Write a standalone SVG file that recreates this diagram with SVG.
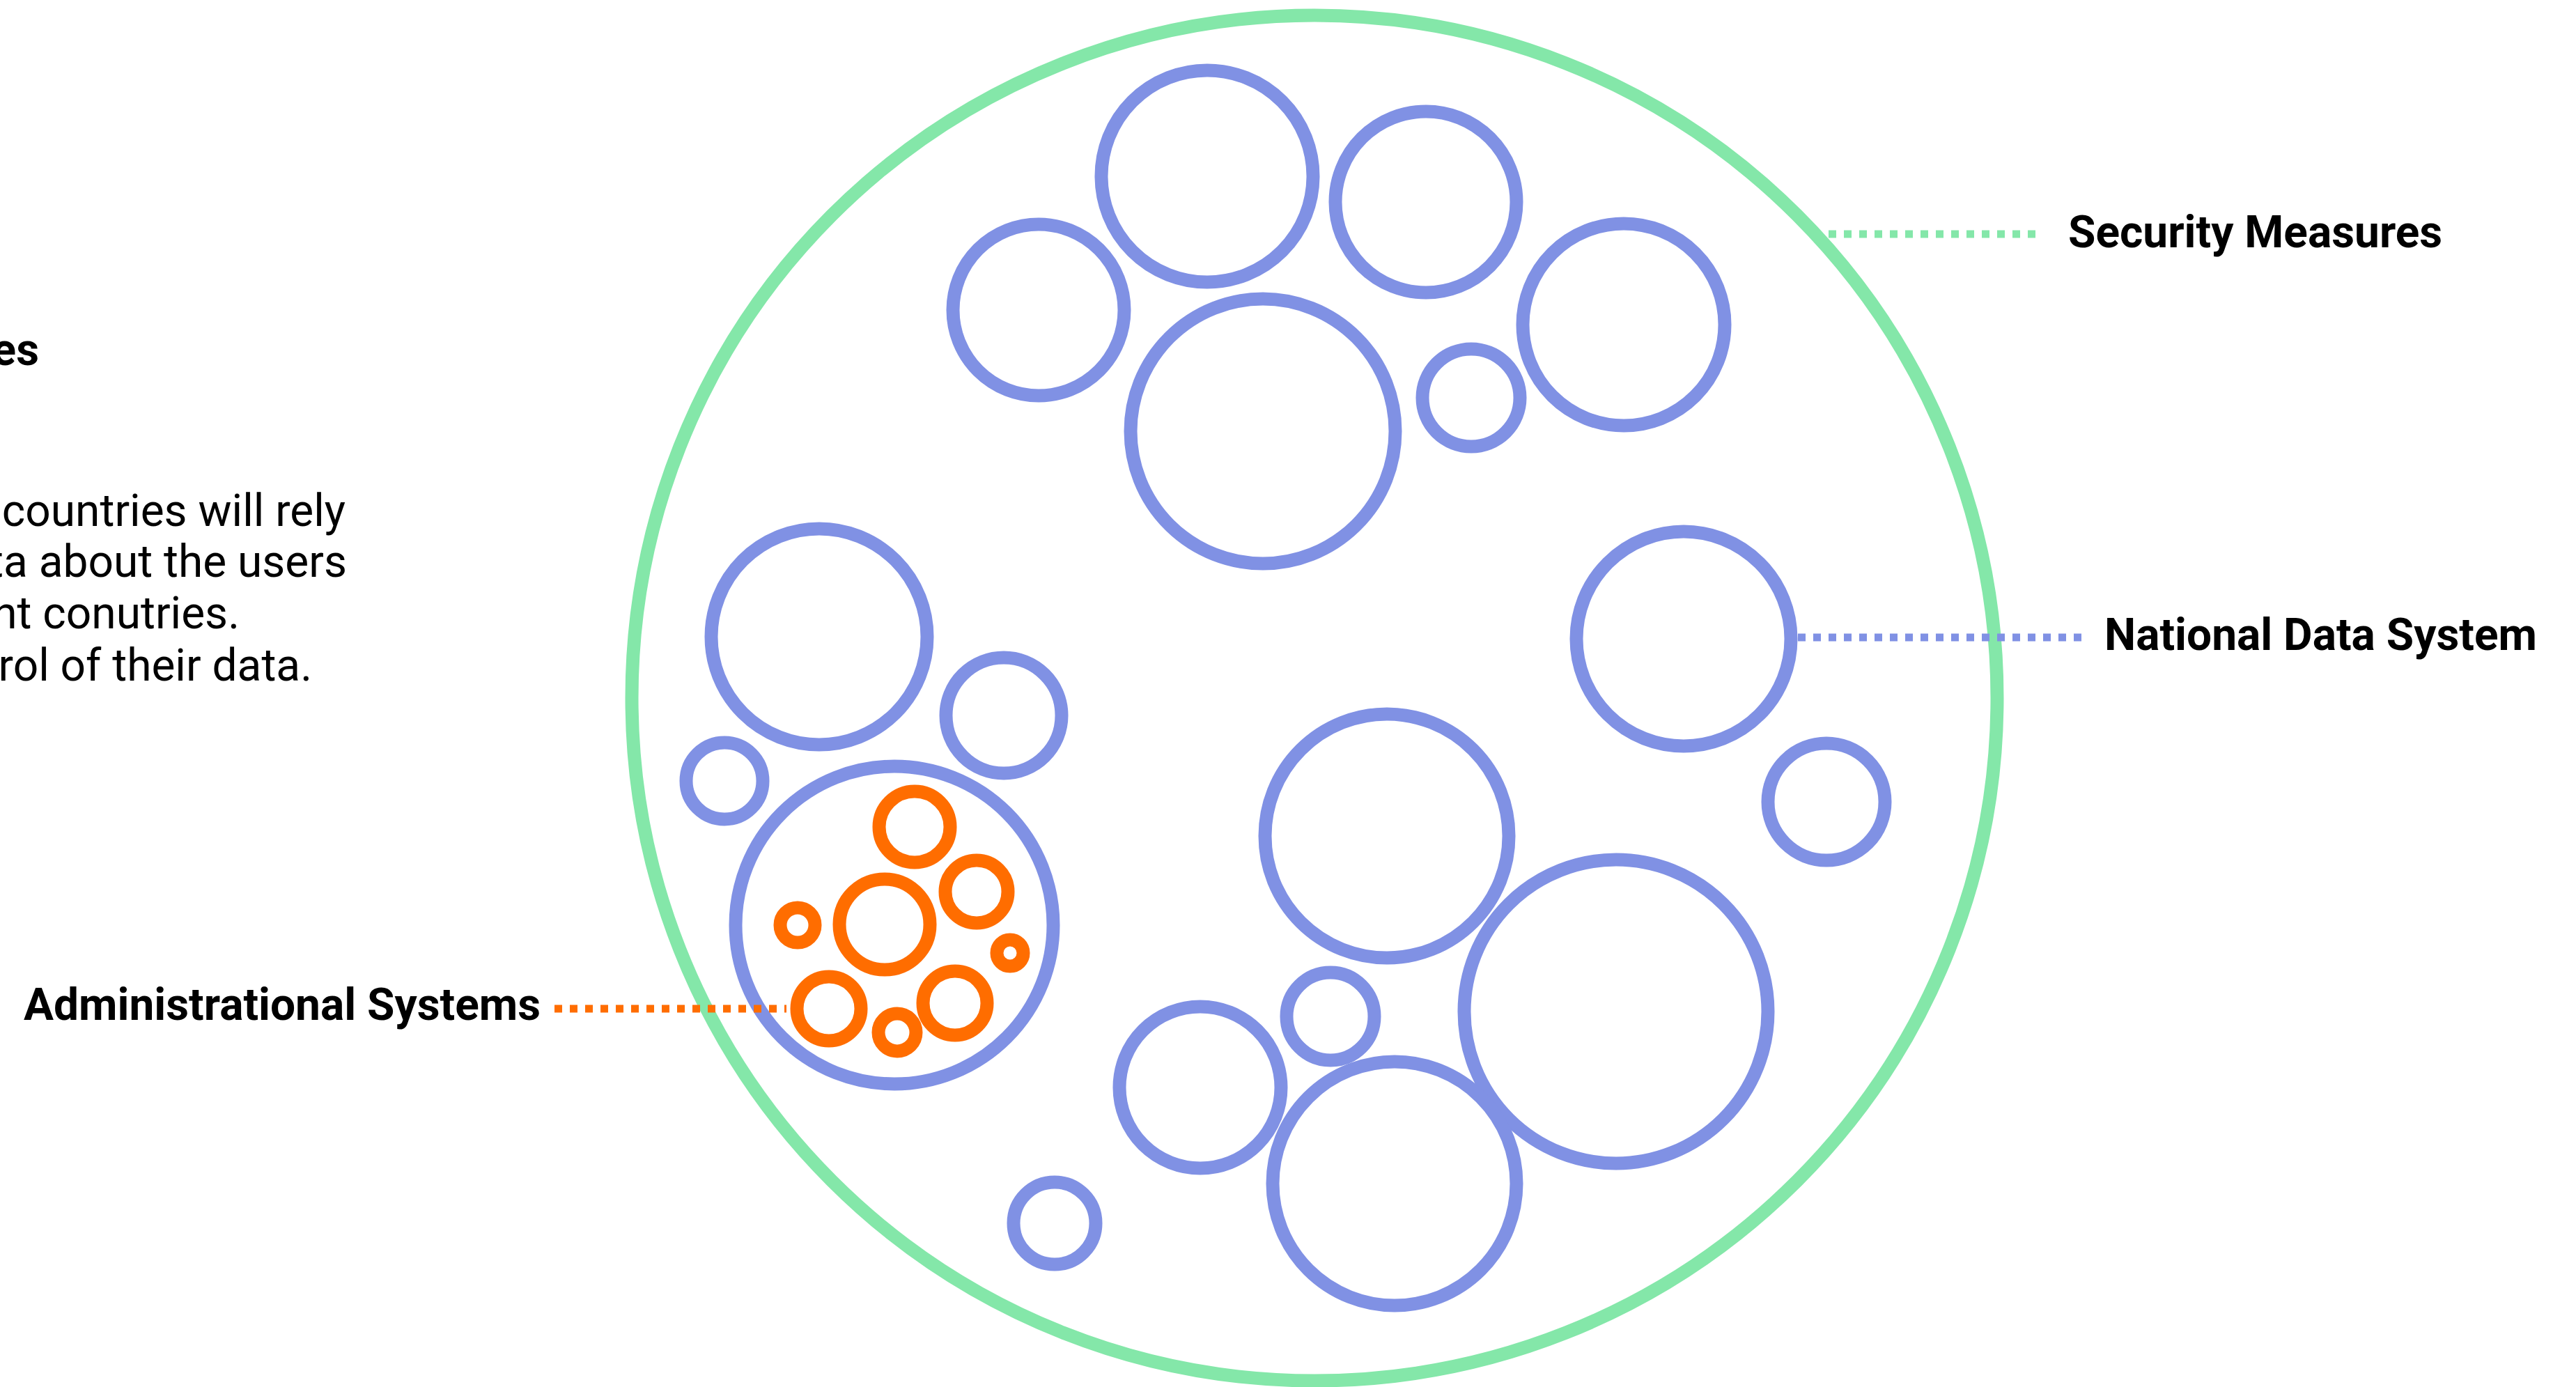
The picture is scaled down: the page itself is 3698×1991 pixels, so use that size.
<svg xmlns="http://www.w3.org/2000/svg" width="3698" height="1991" viewBox="0 0 3698 1991">
<style>
.sec{fill:none;stroke:#84e7a9;stroke-width:19}
.nds{fill:none;stroke:#8091e4;stroke-width:19}
.adm{fill:none;stroke:#ff6d00;stroke-width:19}
.lbl{font-family:Roboto,"Liberation Sans",sans-serif;font-weight:700;font-size:64px;fill:#000}
.body{font-family:Roboto,"Liberation Sans",sans-serif;font-size:64px;fill:#000}
.dot{fill:none;stroke-width:11;stroke-dasharray:11 11}
</style>
<rect width="3698" height="1991" fill="#fff"/>
<g id="intro-text">
<text class="lbl" x="56" y="524" text-anchor="end" font-size="88">es</text>
<text class="body" x="496" y="755" text-anchor="end">countries will rely</text>
<text class="body" x="498" y="828" text-anchor="end">ta about the users</text>
<text class="body" x="344" y="902" text-anchor="end">nt conutries.</text>
<text class="body" x="448" y="977" text-anchor="end">rol of their data.</text>
</g>
<g id="security-measures">
<circle class="sec" cx="1887" cy="1002" r="980"/>
</g>
<g id="national-data-system">
<circle class="nds" cx="1733" cy="253" r="152"/>
<circle class="nds" cx="2047" cy="290" r="130"/>
<circle class="nds" cx="1491" cy="445" r="123"/>
<circle class="nds" cx="1813" cy="619" r="190"/>
<circle class="nds" cx="2331" cy="466" r="145"/>
<circle class="nds" cx="2112" cy="571" r="70"/>
<circle class="nds" cx="1176" cy="914" r="155"/>
<circle class="nds" cx="1441" cy="1027" r="83"/>
<circle class="nds" cx="1040" cy="1121" r="55"/>
<circle class="nds" cx="2417" cy="917" r="154"/>
<circle class="nds" cx="2622" cy="1151" r="84"/>
<circle class="nds" cx="1991" cy="1200" r="175"/>
<circle class="nds" cx="2320" cy="1452" r="218"/>
<circle class="nds" cx="1910" cy="1459" r="63"/>
<circle class="nds" cx="1723" cy="1561" r="116"/>
<circle class="nds" cx="2002" cy="1699" r="175"/>
<circle class="nds" cx="1514" cy="1756" r="59"/>
</g>
<g id="administrational-systems">
<circle class="nds" cx="1284" cy="1328" r="228"/>
<circle class="adm" cx="1313" cy="1187" r="51"/>
<circle class="adm" cx="1402" cy="1280" r="45"/>
<circle class="adm" cx="1270" cy="1327" r="65"/>
<circle class="adm" cx="1145" cy="1328" r="25"/>
<circle class="adm" cx="1450" cy="1368" r="19"/>
<circle class="adm" cx="1190" cy="1448" r="46"/>
<circle class="adm" cx="1371" cy="1440" r="46"/>
<circle class="adm" cx="1288" cy="1482" r="27"/>
</g>
<g id="connectors">
<line class="dot" x1="2625" y1="336" x2="2924" y2="336" stroke="#84e7a9"/>
<line class="dot" x1="2581" y1="915" x2="2992" y2="915" stroke="#8091e4"/>
<line class="dot" x1="796" y1="1448" x2="1129" y2="1448" stroke="#ff6d00"/>
</g>
<g id="labels">
<text class="lbl" x="2969" y="355">Security Measures</text>
<text class="lbl" x="3021" y="933">National Data System</text>
<text class="lbl" x="34" y="1464">Administrational Systems</text>
</g>
</svg>
